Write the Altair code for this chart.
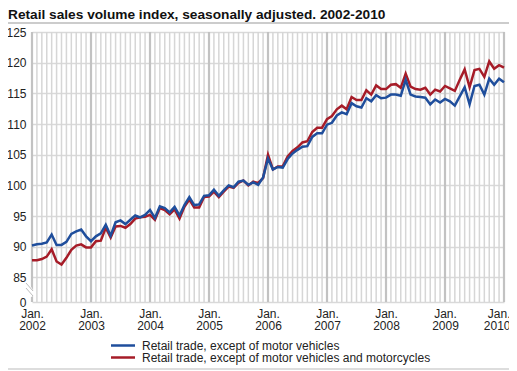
import altair as alt
import pandas as pd

TITLE = "Retail sales volume index, seasonally adjusted. 2002-2010"
SERIES = ["Retail trade, except of motor vehicles",
          "Retail trade, except of motor vehicles and motorcycles"]
COLORS = ["#1f4e9c", "#a61c28"]

months = [f"{y}-{m:02d}" for y in range(2002, 2010) for m in range(1, 13)] + ["2010-01"]

blue = [
    90.2, 90.4, 90.5, 90.7, 92.0, 90.3, 90.3, 90.8, 92.1, 92.5, 92.8, 91.7,
    90.9, 91.7, 92.2, 93.6, 91.8, 94.0, 94.3, 93.7, 94.4, 95.1, 94.8, 95.2,
    96.0, 94.7, 96.6, 96.3, 95.6, 96.5, 95.1, 96.8, 98.1, 96.8, 96.9, 98.3,
    98.4, 99.3, 98.3, 99.2, 100.0, 99.7, 100.6, 100.8, 100.1, 100.5, 100.1, 101.3,
    104.4, 102.6, 103.0, 102.9, 104.3, 105.2, 105.8, 106.3, 106.4, 107.9, 108.5, 108.5,
    109.9, 110.2, 111.4, 111.9, 111.6, 113.4, 112.9, 112.7, 114.2, 113.7, 114.7, 114.2,
    114.3, 114.8, 114.8, 114.6, 117.2, 114.8, 114.5, 114.4, 114.3, 113.2, 114.0, 113.5,
    114.1, 113.7, 113.0, 114.5, 116.0, 113.2, 116.2, 116.4, 114.8, 117.4, 116.4, 117.4,
    116.8,
]
red = [
    87.8, 87.8, 88.0, 88.4, 89.6, 87.6, 87.1, 88.2, 89.5, 90.2, 90.4, 89.9,
    89.9, 90.9, 91.0, 93.1, 91.5, 93.3, 93.4, 93.1, 93.7, 94.6, 94.8, 94.9,
    95.2, 94.4, 96.3, 96.0, 95.3, 96.1, 94.6, 96.5, 97.7, 96.4, 96.4, 98.1,
    98.2, 99.0, 98.1, 99.0, 99.8, 99.6, 100.4, 100.8, 100.0, 100.6, 100.4, 101.2,
    105.0, 102.6, 103.1, 103.1, 104.7, 105.6, 106.2, 107.0, 107.2, 108.7, 109.4, 109.4,
    110.8, 111.3, 112.4, 113.0, 112.4, 114.4, 113.9, 113.9, 115.5, 114.8, 116.3, 115.7,
    115.7, 116.4, 116.5, 115.9, 118.2, 116.1, 115.7, 115.6, 115.9, 114.8, 115.6, 115.3,
    116.2, 115.8, 115.4, 117.2, 118.9, 116.0, 118.8, 119.0, 117.7, 120.2, 119.0, 119.6,
    119.2,
]
y_ticks = [81, 85, 90, 95, 100, 105, 110, 115, 120, 125]

FONT = "Liberation Sans"
W, H = 472, 270
N = len(months) - 1

month_idx = list(range(len(months)))
jan_idx = [i for i, m in enumerate(months) if m.endswith("-01")]

xscale = alt.Scale(domain=[0, N], nice=False, zero=False)
yscale = alt.Scale(domain=[81, 125], nice=False, zero=False)

xaxis = alt.Axis(
    values=jan_idx,
    labelExpr="['Jan.', '' + (2002 + datum.value / 12)]",
    grid=False, ticks=False, domain=False, title=None,
    labelPadding=6, labelLineHeight=12, labelFontSize=12, labelFont=FONT,
    labelColor="#222",
    labelAlign={"condition": {"test": f"datum.value == {N}", "value": "right"}, "value": "center"},
    labelOffset={"condition": {"test": f"datum.value == {N}", "value": 6}, "value": 0},
)
yaxis = alt.Axis(
    values=y_ticks,
    labelExpr="datum.value < 84 ? '0' : datum.label",
    grid=True, gridColor="#d9d9d9", gridWidth=1.6,
    ticks=False, domain=False, title=None,
    labelPadding=6, labelFontSize=12, labelFont=FONT, labelColor="#222",
)

vgrid_month = alt.Chart(pd.DataFrame({"idx": month_idx})).mark_rule(
    color="#d6d6d6", strokeWidth=1.5
).encode(x=alt.X("idx:Q", scale=xscale, axis=xaxis))
vgrid_jan = alt.Chart(pd.DataFrame({"idx": jan_idx})).mark_rule(
    color="#c2c2c2", strokeWidth=2.2
).encode(x=alt.X("idx:Q", scale=xscale, axis=xaxis))

def line(vals, color):
    df = pd.DataFrame({"idx": list(range(len(vals))), "month": months, "value": vals})
    return alt.Chart(df).mark_line(color=color, strokeWidth=2.5, strokeJoin="miter").encode(
        x=alt.X("idx:Q", scale=xscale, axis=xaxis),
        y=alt.Y("value:Q", scale=yscale, axis=yaxis),
    )

one = pd.DataFrame({"k": [0]})

# y-axis break marks
brk_white = alt.Chart(one).mark_rule(color="white", strokeWidth=6).encode(
    x=alt.value(-6), x2=alt.value(1), y=alt.value(252), y2=alt.value(264))
brk1 = alt.Chart(one).mark_rule(color="#bdbdbd", strokeWidth=1).encode(
    x=alt.value(-6), x2=alt.value(1), y=alt.value(251), y2=alt.value(259))
brk2 = alt.Chart(one).mark_rule(color="#bdbdbd", strokeWidth=1).encode(
    x=alt.value(-6), x2=alt.value(1), y=alt.value(256), y2=alt.value(264))

title = alt.Chart(one).mark_text(
    align="left", baseline="alphabetic", fontSize=13.7, fontWeight="bold", font=FONT, color="#111"
).encode(x=alt.value(-24), y=alt.value(-13), text=alt.value(TITLE))
top_line = alt.Chart(one).mark_rule(color="#cccccc", strokeWidth=2).encode(
    x=alt.value(-24), x2=alt.value(W + 5), y=alt.value(-9))
bottom_line = alt.Chart(one).mark_rule(color="#dddddd", strokeWidth=2).encode(
    x=alt.value(-24), x2=alt.value(W + 5), y=alt.value(337))

legend_layers = []
for i, (name, col) in enumerate(zip(SERIES, COLORS)):
    ly = 313.5 + 12 * i
    legend_layers.append(
        alt.Chart(one).mark_rule(color=col, strokeWidth=2.5).encode(
            x=alt.value(79), x2=alt.value(103), y=alt.value(ly)))
    legend_layers.append(
        alt.Chart(pd.DataFrame({"label": [name]})).mark_text(
            align="left", baseline="middle", fontSize=12, font=FONT, color="#222"
        ).encode(x=alt.value(110), y=alt.value(ly), text="label:N"))

chart = alt.layer(
    vgrid_month, vgrid_jan,
    line(red, COLORS[1]),
    line(blue, COLORS[0]),
    brk_white, brk1, brk2,
    title, top_line, bottom_line,
    *legend_layers,
).properties(
    width=W, height=H,
    autosize=alt.AutoSizeParams(type="none"),
    padding={"left": 24, "top": 24, "right": 5, "bottom": 68},
).configure_view(stroke=None)

chart.save("out.html", embed_options={"renderer": "svg", "actions": False})
